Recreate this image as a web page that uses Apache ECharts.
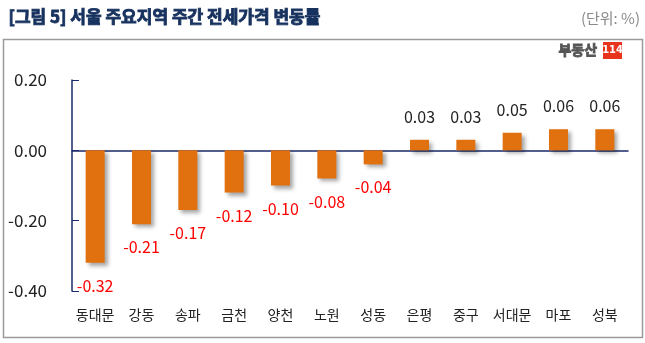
<!DOCTYPE html>
<html><head><meta charset="utf-8">
<script src="https://cdn.jsdelivr.net/npm/echarts@6/dist/echarts.min.js"></script>
<style>html,body{margin:0;padding:0;background:#fff}#c{width:645px;height:343px}</style>
</head><body><div id="c"></div>
<script>
const categories = ['동대문','강동','송파','금천','양천','노원','성동','은평','중구','서대문','마포','성북'];
const values = [-0.32,-0.21,-0.17,-0.12,-0.10,-0.08,-0.04,0.03,0.03,0.05,0.06,0.06];
const yTicks = [-0.4,-0.2,0,0.2];
const title = '[그림 5] 서울 주요지역 주간 전세가격 변동률';
const unit = '(단위: %)';
const FONT = '"Noto Sans CJK KR","Noto Sans",sans-serif';
const navy = '#1B2A6B';
const chart = echarts.init(document.getElementById('c'));
chart.setOption({
  animation:false,
  textStyle:{fontFamily:FONT},
  graphic:[
    {type:'text',left:8,top:8,style:{text:title,font:'bold 17px "Noto Sans CJK KR"',fill:'#17325E',stroke:'#17325E',lineWidth:0.9}},
    {type:'text',right:5,top:11,style:{text:unit,font:'15px '+FONT,fill:'#8a8a8a'}},
    {type:'rect',shape:{x:3.5,y:39.5,width:639,height:298},style:{fill:'none',stroke:'#9a9a9a',lineWidth:1.5}},
    {type:'text',left:558,top:42,style:{text:'부동산',font:'bold 14px '+FONT,fill:'#555',stroke:'#555',lineWidth:0.8}},
    {type:'rect',shape:{x:603,y:42,width:19,height:17},style:{fill:'#E8341C'}},
    {type:'text',x:612.5,y:50.5,style:{text:'114',font:'bold 11px "Liberation Sans Narrow","DejaVu Sans Condensed",sans-serif',fill:'#fff',align:'center',verticalAlign:'middle'}}
  ],
  grid:{left:72,right:17,top:80,bottom:52},
  xAxis:[
    {type:'category',data:categories,axisLine:{onZero:true,lineStyle:{color:navy,width:1.5}},
     axisTick:{inside:true,length:6,lineStyle:{color:navy}},axisLabel:{show:false}},
    {type:'category',data:categories,position:'bottom',axisLine:{show:false,onZero:false},axisTick:{show:false},
     axisLabel:{interval:0,margin:17,fontSize:14,color:'#222',fontFamily:FONT}}
  ],
  yAxis:{type:'value',min:-0.4,max:0.2,interval:0.2,
    axisLine:{show:true,lineStyle:{color:navy,width:1.5}},
    axisTick:{show:true,inside:true,length:7,lineStyle:{color:navy}},
    splitLine:{show:false},
    axisLabel:{margin:25,fontSize:17,color:'#222',fontFamily:FONT,formatter:v=>v.toFixed(2)}},
  series:[{type:'bar',barWidth:19,xAxisIndex:0,
    data:values.map(v=>({value:v,label:{position:v<0?'bottom':'top',color:v<0?'#FF0000':'#222'}})),
    itemStyle:{color:'#E1700F',shadowColor:'rgba(0,0,0,0.35)',shadowBlur:4,shadowOffsetX:3,shadowOffsetY:3},
    label:{show:true,distance:15,fontSize:16,fontFamily:FONT,formatter:p=>p.value.toFixed(2)}
  }]
});
</script></body></html>
